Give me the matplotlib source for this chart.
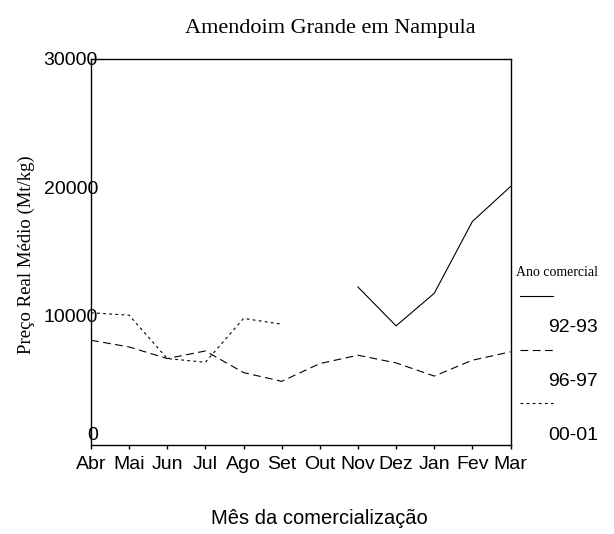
import matplotlib
matplotlib.use("Agg")
import matplotlib.pyplot as plt
from matplotlib.lines import Line2D
import numpy as np

months = ["Abr", "Mai", "Jun", "Jul", "Ago", "Set", "Out", "Nov", "Dez", "Jan", "Fev", "Mar"]
series_names = ["92-93", "96-97", "00-01"]
s_9293 = [None, None, None, None, None, None, None, 12240, 9220, 11750, 17330, 20050]
s_9697 = [8100, 7580, 6680, 7270, 5590, 4910, 6290, 6940, 6340, 5320, 6550, 7200]
s_0001 = [10240, 10050, 6680, 6390, 9800, 9350, None, None, None, None, None, None]
yticks = [0, 10000, 20000, 30000]

W, H = 614, 534
fig = plt.figure(figsize=(W / 100, H / 100), dpi=100)
ax = fig.add_axes([91 / W, 1 - 444.5 / H, (510.5 - 91) / W, (444.5 - 58.5) / H])

sans = "Liberation Sans"
serif = "Liberation Serif"

def arr(v):
    return np.array([np.nan if x is None else x for x in v], dtype=float)

x = np.arange(len(months))
styles = ["-", (0, (7, 4)), (0, (2.5, 3))]
for vals, ls in zip([s_9293, s_9697, s_0001], styles):
    ax.plot(x, arr(vals), color="black", lw=0.8, linestyle=ls)

ax.set_xlim(0, len(months) - 1)
ax.set_ylim(0, 30000)
ax.set_xticks(x)
ax.set_xticklabels(months, fontfamily=sans, fontsize=14)
ax.set_yticks(yticks)
ax.set_yticklabels([str(v) for v in yticks], fontfamily=sans, fontsize=14)
ax.tick_params(axis="x", direction="out", length=3, width=1, pad=5)
ax.tick_params(axis="y", length=0, pad=-5)
ylabs = ax.get_yticklabels()
ylabs[0].set_va("bottom")
for sp in ax.spines.values():
    sp.set_linewidth(1.0)

fig.text(330 / W, 1 - 28 / H, "Amendoim Grande em Nampula", ha="center", va="center",
         fontfamily=serif, fontsize=16)
fig.text(26 / W, 1 - 255 / H, "Preço Real Médio (Mt/kg)", ha="center", va="center",
         rotation=90, fontfamily=serif, fontsize=13.5)
fig.text(319 / W, 1 - 518 / H, "Mês da comercialização", ha="center", va="center",
         fontfamily=sans, fontsize=14.5)

# legend (outside, right)
fig.text(516 / W, 1 - 272 / H, "Ano comercial", ha="left", va="center",
         fontfamily=serif, fontsize=10)
line_y = [296, 350, 402.5]
lab_y = [328, 382, 435]
for name, ls, ly, ty in zip(series_names, styles, line_y, lab_y):
    fig.add_artist(Line2D([520 / W, 553 / W], [1 - ly / H, 1 - ly / H], color="black",
                          lw=0.8, linestyle=ls, transform=fig.transFigure))
    fig.text(598 / W, 1 - ty / H, name, ha="right", va="center", fontfamily=sans, fontsize=14)

fig.savefig("out.png", dpi=100)
